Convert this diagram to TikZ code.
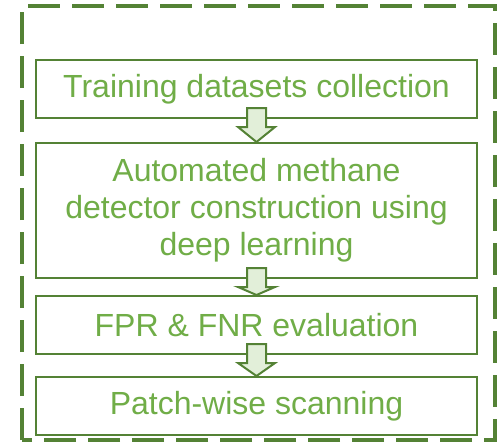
\documentclass[tikz,border=0pt]{standalone}
\usepackage{fontspec}
\setmainfont{Liberation Sans}
\usetikzlibrary{calc}
\definecolor{dkgreen}{RGB}{84,130,53}
\definecolor{txtgreen}{RGB}{112,173,71}
\definecolor{lightgreen}{RGB}{226,239,217}
\tikzset{
  stepbox/.style={draw=dkgreen, line width=2pt, fill=white, minimum width=441pt, inner sep=0pt,
    text=txtgreen, font=\fontsize{32}{37}\selectfont, align=center},
  blockarrow/.style={draw=dkgreen, line width=2pt, fill=lightgreen, line join=miter}
}
\newcommand{\blockarr}[2]{%
  \path let \p1=(#1.south), \p2=(#2.north) in
    coordinate (tip) at (\x1,\y2)
    coordinate (top) at (\x1,\y1);
  \draw[blockarrow] ($(top)+(-9.5,-11)$) -- ($(top)+(9.5,-11)$) -- ($(top)+(9.5,8)$) -- ($(top)+(18.5,8)$)
    -- (tip) -- ($(top)+(-18.5,8)$) -- ($(top)+(-9.5,8)$) -- cycle;
}
\begin{document}
\begin{tikzpicture}[x=1pt,y=-1pt]
\useasboundingbox (0,0) rectangle (500,442);
\draw[dkgreen, line width=4pt, dash pattern=on 32pt off 12pt] (22,440) -- (22,6) -- (495,6) -- (495,440) -- cycle;
\node[stepbox, minimum height=58pt] (b1) at (256.5,89) {Training datasets collection};
\node[stepbox, minimum height=135pt] (b2) at (256.5,210.5) {Automated methane\\detector construction using\\deep learning};
\node[stepbox, minimum height=58pt] (b3) at (256.5,325) {FPR \& FNR evaluation};
\node[stepbox, minimum height=58pt] (b4) at (256.5,406) {Patch-wise scanning};
\blockarr{b1}{b2}
\blockarr{b2}{b3}
\blockarr{b3}{b4}
\end{tikzpicture}
\end{document}
